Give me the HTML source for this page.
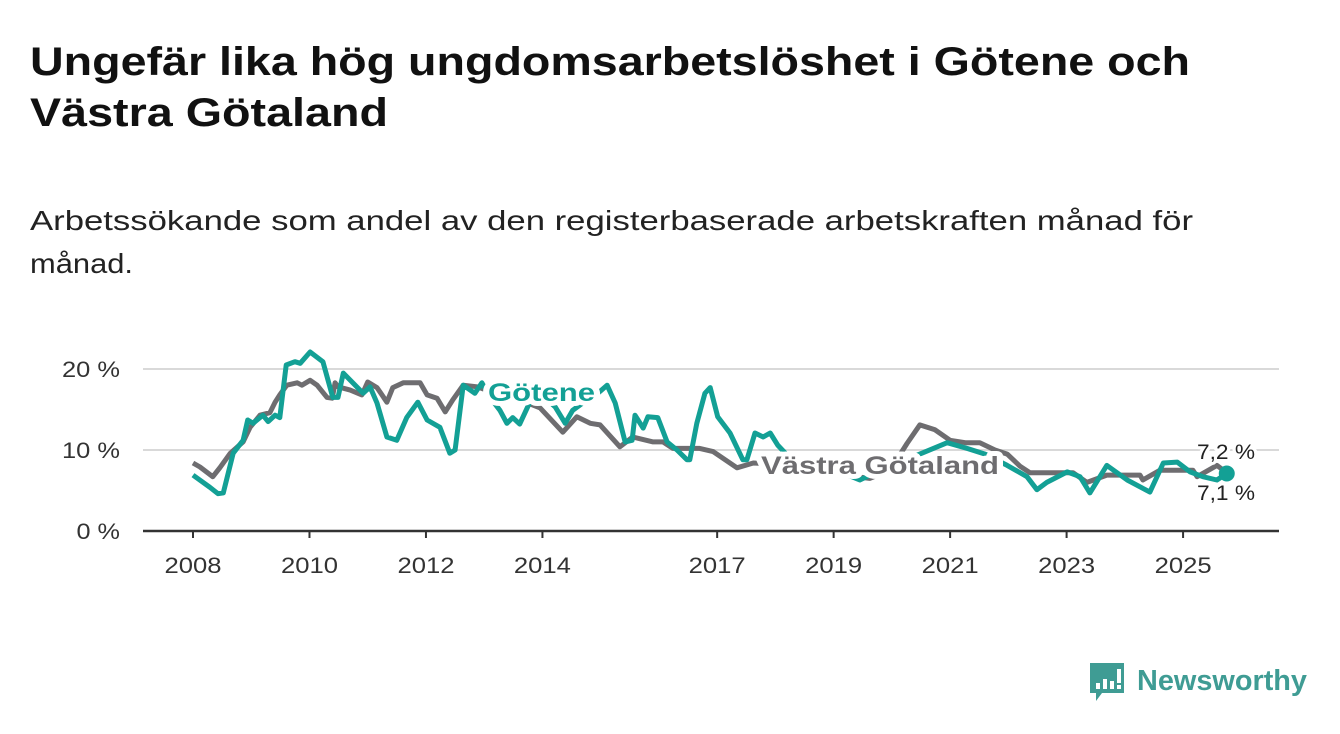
<!DOCTYPE html>
<html><head><meta charset="utf-8"><style>
html,body{margin:0;padding:0;background:#fff;}
svg{display:block;font-family:"Liberation Sans",sans-serif;}
</style></head><body>
<svg id="chart" width="1340" height="734" viewBox="0 0 1340 734" xmlns="http://www.w3.org/2000/svg">
<text x="30" y="75" font-size="40" font-weight="bold" fill="#111" textLength="1160" lengthAdjust="spacingAndGlyphs">Ungefär lika hög ungdomsarbetslöshet i Götene och</text>
<text x="30" y="126" font-size="40" font-weight="bold" fill="#111" textLength="358" lengthAdjust="spacingAndGlyphs">Västra Götaland</text>
<text x="30" y="230" font-size="28" fill="#222" textLength="1163" lengthAdjust="spacingAndGlyphs">Arbetssökande som andel av den registerbaserade arbetskraften månad för</text>
<text x="30" y="273" font-size="28" fill="#222" textLength="103" lengthAdjust="spacingAndGlyphs">månad.</text>
<g id="grid"></g>
<g id="axes"></g>
<g id="series"></g>
<g id="labels"></g>
<g>
<path d="M1090 663 h34 v30 h-22 l-6 8 v-8 h-6 z" fill="#3f9c94"/>
<rect x="1096" y="683" width="4" height="6" fill="#fff"/>
<rect x="1103" y="679" width="4" height="10" fill="#fff"/>
<rect x="1110" y="681" width="4" height="8" fill="#fff"/>
<rect x="1117" y="669" width="4" height="14" fill="#fff"/>
<rect x="1117" y="685" width="4" height="4" fill="#fff"/>
<text x="1137" y="690" font-size="29" font-weight="bold" fill="#3f9c94" textLength="170" lengthAdjust="spacingAndGlyphs">Newsworthy</text>
</g>
</svg>
<script>
const yTicks = [0, 10, 20];
const yTickLabels = ["0 %", "10 %", "20 %"];
const xTicks = [2008, 2010, 2012, 2014, 2017, 2019, 2021, 2023, 2025];
const goteneYears = [2008.0,2008.29,2008.43,2008.52,2008.69,2008.86,2008.94,2009.03,2009.2,2009.29,2009.41,2009.49,2009.6,2009.75,2009.84,2010.01,2010.23,2010.4,2010.49,2010.58,2010.92,2011.04,2011.16,2011.33,2011.5,2011.67,2011.86,2012.02,2012.24,2012.41,2012.5,2012.64,2012.84,2012.96,2013.1,2013.27,2013.39,2013.49,2013.61,2013.79,2014.04,2014.22,2014.39,2014.52,2014.73,2014.87,2015.11,2015.25,2015.42,2015.54,2015.59,2015.73,2015.81,2015.98,2016.14,2016.31,2016.48,2016.53,2016.65,2016.79,2016.88,2017.01,2017.22,2017.44,2017.51,2017.65,2017.79,2017.91,2018.04,2018.25,2018.59,2018.94,2019.28,2019.45,2019.8,2020.14,2020.48,2020.95,2021.29,2021.6,2021.98,2022.32,2022.49,2022.66,2023.01,2023.23,2023.4,2023.69,2024.04,2024.43,2024.66,2024.9,2025.12,2025.34,2025.58,2025.75];
const goteneValues = [6.9,5.4,4.6,4.7,9.6,11.2,13.7,13.3,14.3,13.5,14.3,14.0,20.5,20.9,20.7,22.1,20.9,16.5,16.5,19.5,17.0,17.8,15.8,11.6,11.2,14.0,15.9,13.7,12.8,9.6,10.0,18.0,17.0,18.3,16.5,14.9,13.3,14.0,13.2,16.0,16.5,15.3,13.3,14.9,16.0,16.5,18.0,15.8,11.0,11.2,14.3,12.7,14.1,14.0,11.0,10.0,8.8,8.8,13.3,17.0,17.7,14.1,12.1,8.8,8.8,12.1,11.6,12.1,10.6,9.0,8.0,7.5,6.8,6.3,7.5,8.5,9.5,10.9,10.2,9.5,8.1,6.7,5.1,6.0,7.3,6.7,4.7,8.1,6.3,4.8,8.4,8.5,7.3,6.7,6.3,7.1];
const vgYears = [2008.0,2008.12,2008.34,2008.46,2008.64,2008.86,2008.98,2009.15,2009.32,2009.41,2009.49,2009.61,2009.79,2009.87,2010.01,2010.13,2010.3,2010.39,2010.44,2010.49,2010.7,2010.9,2011.0,2011.16,2011.33,2011.43,2011.61,2011.9,2012.02,2012.19,2012.33,2012.46,2012.64,2012.88,2013.27,2013.61,2013.96,2014.35,2014.59,2014.82,2014.99,2015.33,2015.55,2015.9,2016.07,2016.24,2016.7,2016.93,2017.34,2017.62,2017.91,2018.25,2018.77,2019.28,2019.62,2019.97,2020.26,2020.48,2020.74,2021.0,2021.26,2021.51,2021.77,2021.98,2022.2,2022.37,2023.11,2023.35,2023.69,2024.26,2024.31,2024.6,2025.17,2025.24,2025.58,2025.75];
const vgValues = [8.4,7.9,6.7,7.8,9.6,11.0,12.8,14.3,14.6,15.9,16.8,18.0,18.3,18.0,18.6,18.0,16.5,16.4,18.3,17.8,17.4,16.8,18.4,17.7,15.9,17.7,18.3,18.3,16.8,16.4,14.7,16.2,18.0,17.8,16.8,16.2,15.2,12.2,14.1,13.3,13.1,10.4,11.6,11.0,11.0,10.2,10.2,9.8,7.8,8.4,8.3,7.6,7.2,6.8,6.5,7.5,10.8,13.1,12.5,11.2,10.9,10.9,10.0,9.5,8.0,7.2,7.2,6.0,6.9,6.9,6.3,7.5,7.5,6.7,8.1,7.2];

const NS = "http://www.w3.org/2000/svg";
const X = yr => 193 + (yr - 2008) * 58.24;
const Y = v => 531 - v * 8.1;
function mk(tag, attrs, parent){ const e = document.createElementNS(NS, tag); for (const k in attrs) e.setAttribute(k, attrs[k]); parent.appendChild(e); return e; }
const grid = document.getElementById('grid'), axes = document.getElementById('axes'), series = document.getElementById('series'), labels = document.getElementById('labels');

yTicks.forEach((t, i) => {
  if (t > 0) {
    const gl = mk('line', {x1:143, x2:1279, y1:Y(t), y2:Y(t), stroke:'#d9d9d9', 'stroke-width':2}, grid);
    
    
  }
  const tl = mk('text', {x:120, y:Y(t)+8, 'font-size':22, 'text-anchor':'end', fill:'#333', textLength: yTickLabels[i].length * 14.5, lengthAdjust:'spacingAndGlyphs'}, axes);
  tl.textContent = yTickLabels[i];
  
  
});
const ax = mk('line', {x1:143, x2:1279, y1:531, y2:531, stroke:'#333', 'stroke-width':2.5}, axes);


xTicks.forEach(t => {
  const tk = mk('line', {x1:X(t), x2:X(t), y1:531, y2:538, stroke:'#333', 'stroke-width':2}, axes);
  
  
  const tl = mk('text', {x:X(t), y:573, 'font-size':22, 'text-anchor':'middle', fill:'#333', textLength:57, lengthAdjust:'spacingAndGlyphs'}, axes);
  tl.textContent = String(t);
  
  
});

function pts(ys, vs){ return ys.map((y, i) => X(y).toFixed(1) + ',' + Y(vs[i]).toFixed(1)).join(' '); }
const vgLine = mk('polyline', {points:pts(vgYears, vgValues), fill:'none', stroke:'#6e6d70', 'stroke-width':5, 'stroke-linejoin':'round'}, series);


const gLine = mk('polyline', {points:pts(goteneYears, goteneValues), fill:'none', stroke:'#13a095', 'stroke-width':5, 'stroke-linejoin':'round'}, series);


const lastV = vgValues.length - 1, lastG = goteneValues.length - 1;
const vgDot = mk('circle', {cx:X(vgYears[lastV]), cy:Y(vgValues[lastV]), r:4, fill:'#6e6d70'}, series);


const gDot = mk('circle', {cx:X(goteneYears[lastG]), cy:Y(goteneValues[lastG]), r:8, fill:'#13a095'}, series);



const halo = {stroke:'#fff', 'stroke-width':10, 'paint-order':'stroke', 'stroke-linejoin':'round'};
const lg = mk('text', Object.assign({x:488, y:401, 'font-size':25, 'font-weight':'bold', fill:'#13a095', textLength:107, lengthAdjust:'spacingAndGlyphs'}, halo), labels);
lg.textContent = 'Götene';


const lv = mk('text', Object.assign({x:761, y:474, 'font-size':25, 'font-weight':'bold', fill:'#6e6d70', textLength:238, lengthAdjust:'spacingAndGlyphs'}, halo), labels);
lv.textContent = 'Västra Götaland';


const ev = mk('text', Object.assign({x:1255, y:459, 'font-size':21, 'text-anchor':'end', fill:'#222', textLength:58, lengthAdjust:'spacingAndGlyphs'}, halo), labels);
ev.setAttribute('stroke-width', 6);
ev.textContent = vgValues[lastV].toFixed(1).replace('.', ',') + ' %';


const eg = mk('text', Object.assign({x:1255, y:500, 'font-size':21, 'text-anchor':'end', fill:'#222', textLength:58, lengthAdjust:'spacingAndGlyphs'}, halo), labels);
eg.setAttribute('stroke-width', 6);
eg.textContent = goteneValues[lastG].toFixed(1).replace('.', ',') + ' %';


</script>
</body></html>
